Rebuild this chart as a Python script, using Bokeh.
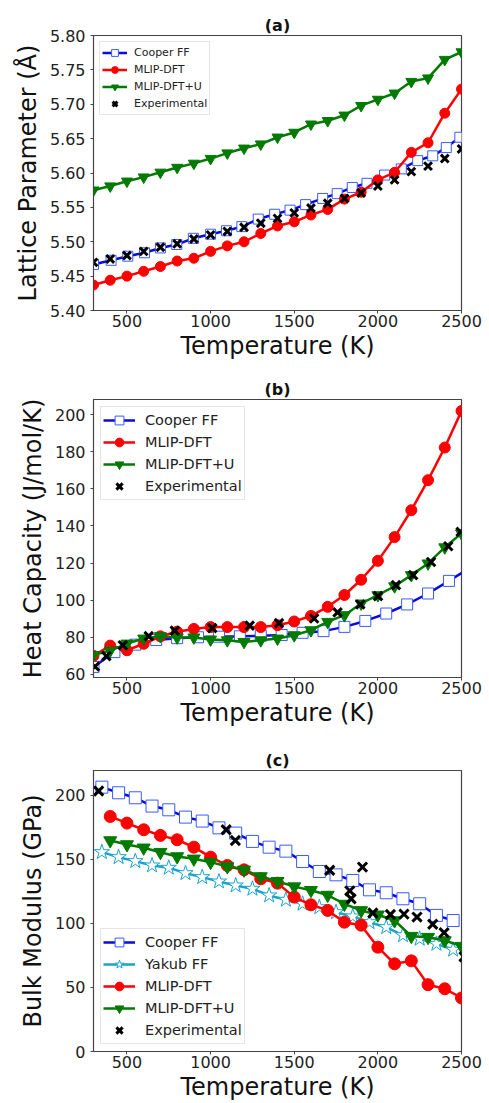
from bokeh.plotting import figure
from bokeh.layouts import column
from bokeh.models import Range1d, FixedTicker, PrintfTickFormatter
from bokeh.embed import file_html
from bokeh.resources import INLINE

# ---------------- Panel (a): lattice parameter ----------------
T_a = [300, 400, 500, 600, 700, 800, 900, 1000, 1100, 1200, 1300, 1400,
       1500, 1600, 1700, 1800, 1900, 2000, 2100, 2200, 2300, 2400, 2500]
cooper_a_T = [300, 405, 505, 605, 700, 798, 897, 1000, 1095, 1187, 1285, 1383,
              1475, 1568, 1670, 1757, 1847, 1935, 2040, 2140, 2238, 2328, 2409, 2490]
cooper_a = [5.467, 5.473, 5.479, 5.484, 5.491, 5.496, 5.505, 5.511, 5.516, 5.522,
            5.533, 5.540, 5.546, 5.554, 5.563, 5.570, 5.579, 5.585, 5.597, 5.606,
            5.618, 5.625, 5.637, 5.652]
mlip_a = [5.437, 5.444, 5.450, 5.457, 5.464, 5.472, 5.476, 5.486, 5.494, 5.500,
          5.512, 5.523, 5.529, 5.539, 5.547, 5.562, 5.572, 5.590, 5.601, 5.630,
          5.644, 5.687, 5.722]
mlipu_a = [5.575, 5.581, 5.588, 5.594, 5.601, 5.608, 5.614, 5.621, 5.629, 5.636,
           5.642, 5.652, 5.659, 5.671, 5.676, 5.684, 5.698, 5.707, 5.716, 5.733,
           5.738, 5.765, 5.776]
exp_a = [5.470, 5.475, 5.480, 5.486, 5.492, 5.497, 5.504, 5.510, 5.515, 5.521,
         5.527, 5.534, 5.542, 5.549, 5.556, 5.563, 5.571, 5.581, 5.590, 5.602,
         5.610, 5.621, 5.635]
yticks_a = [5.40, 5.45, 5.50, 5.55, 5.60, 5.65, 5.70, 5.75, 5.80]

# ---------------- Panel (b): heat capacity ----------------
T_b = [300, 400, 500, 600, 700, 800, 900, 1000, 1100, 1200, 1300, 1400,
       1500, 1600, 1700, 1800, 1900, 2000, 2100, 2200, 2300, 2400, 2500]
cooper_b_T = [300, 425, 550, 675, 800, 925, 1050, 1175, 1300, 1425, 1550, 1675,
              1800, 1925, 2050, 2175, 2300, 2425, 2550]
cooper_b = [64, 72, 76, 78.5, 79.5, 80, 80.3, 80.5, 80.8, 81.2, 82.4, 83.3,
            85.6, 88.8, 92.8, 97.7, 103.6, 110.4, 117.5]
mlip_b = [70, 75.5, 73, 76.5, 80.5, 83, 84.5, 85.5, 85.5, 85.5, 85.5, 86.5,
          88.5, 91.5, 96.4, 102.8, 111, 121.2, 134, 148.5, 164.7, 182.3, 202]
mlipu_b = [70.4, 72.8, 76.6, 79.3, 80.6, 79.9, 79.9, 78.8, 78.4, 77.5, 78.4, 79.3,
           81.1, 83.8, 88.3, 91.9, 98.2, 102.7, 107.5, 113.5, 119.8, 128.5, 136]
exp_b_T = [309, 377, 475, 630, 786, 1010, 1234, 1409, 1619, 1759, 1895, 2001,
           2108, 2211, 2318, 2421, 2495]
exp_b = [64.2, 69.8, 75.7, 80.6, 83.6, 84.9, 86.3, 87.6, 90.1, 93.4, 97.7, 102.2,
         108.1, 113.5, 120.6, 129.1, 136.8]
yticks_b = [60, 80, 100, 120, 140, 160, 180, 200]

# ---------------- Panel (c): bulk modulus ----------------
T_c_ff = [350, 450, 550, 650, 750, 850, 950, 1050, 1150, 1250, 1350, 1450,
          1550, 1650, 1750, 1850, 1950, 2050, 2150, 2250, 2350, 2450]
cooper_c = [206.5, 202.1, 198.2, 191.7, 188.8, 183.1, 180, 174.7, 170.6, 164.1,
            159.6, 156.5, 148.4, 140.6, 138, 133.6, 126.3, 124, 119.3, 115.4,
            106.3, 102.3]
yakub_c = [155.7, 151.8, 148.7, 145.3, 143.5, 139.3, 136.2, 132.8, 129.7, 127.1,
           121.9, 118.5, 115.4, 112.7, 108.8, 105.5, 101, 97.1, 90.8, 88, 84.1, 79.5]
T_c_ml = [400, 500, 600, 700, 800, 900, 1000, 1100, 1200, 1300, 1400, 1500,
          1600, 1700, 1800, 1900, 2000, 2100, 2200, 2300, 2400, 2500]
mlip_c = [183.6, 178.4, 173.2, 168.8, 165.4, 159.6, 151.8, 145.3, 141.9, 134.9,
          131.5, 120.6, 114.6, 110.2, 101, 98.7, 81.5, 68.5, 70.8, 52.2, 49, 41.8]
mlipu_c = [164.8, 161.7, 159.1, 155.7, 152.3, 150.5, 147.9, 144.5, 141.9, 136.7,
           133, 128.8, 126, 122.2, 115.2, 110.2, 106.8, 102.3, 90.1, 89.3, 86.7, 82.3]
exp_c_T = [331, 1093, 1148, 1712, 1832, 1840, 1908, 1970, 2075, 2156, 2234,
           2328, 2396, 2515]
exp_c = [203.5, 173.2, 164.8, 141.6, 125.5, 119.3, 144, 108.2, 107, 107.3, 105,
         99.4, 92.8, 74]
yticks_c = [0, 50, 100, 150, 200]

xticks = [500, 1000, 1500, 2000, 2500]

BLUE = "#0a0ae0"
BLUE_EDGE = "#3a5cff"
CYAN = "#1aa3c9"
RED = "#ff0000"
GREEN = "#007a00"
FONT = "DejaVu Sans"
AXC = "#444444"


def make_fig(height, ml, mr, mt, mb, yr, yticks, fmt, ylabel, title):
    p = figure(width=489, height=height, x_range=Range1d(300, 2500),
               y_range=Range1d(*yr), output_backend="svg", toolbar_location=None,
               min_border_left=ml, min_border_right=mr, min_border_top=mt,
               min_border_bottom=mb, title=title)
    p.title.text_font = FONT
    p.title.text_font_size = "16px"
    p.title.text_font_style = "bold"
    p.title.align = "center"
    p.title.standoff = 2
    p.title.text_color = "#111111"
    p.xgrid.visible = False
    p.ygrid.visible = False
    p.outline_line_color = AXC
    p.outline_line_width = 1.2
    p.xaxis.ticker = FixedTicker(ticks=xticks)
    p.yaxis.ticker = FixedTicker(ticks=yticks)
    p.yaxis.formatter = PrintfTickFormatter(format=fmt)
    p.xaxis.axis_label = "Temperature (K)"
    p.yaxis.axis_label = ylabel
    for ax in (p.xaxis[0], p.yaxis[0]):
        ax.axis_line_color = AXC
        ax.major_tick_line_color = AXC
        ax.minor_tick_line_color = None
        ax.major_tick_in = 0
        ax.major_tick_out = 3
        ax.major_label_text_font = FONT
        ax.major_label_text_font_size = "16px"
        ax.major_label_text_color = "#222222"
        ax.axis_label_text_font = FONT
        ax.axis_label_text_font_size = "24px"
        ax.axis_label_text_font_style = "normal"
        ax.axis_label_text_color = "#111111"
    p.xaxis.major_label_standoff = 1
    p.xaxis.axis_label_standoff = 2
    p.yaxis.major_label_standoff = 5
    p.yaxis.axis_label_standoff = 5
    return p


def style_legend(p, loc, fs, gw, gh, std, sp, pad, margin):
    lg = p.legend[0]
    lg.location = loc
    lg.label_text_font = FONT
    lg.label_text_font_size = fs
    lg.label_text_color = "#222222"
    lg.glyph_width = gw
    lg.glyph_height = gh
    lg.label_height = gh
    lg.label_standoff = std
    lg.spacing = sp
    lg.padding = pad
    lg.margin = margin
    lg.border_line_color = "#cccccc"
    lg.border_line_width = 1
    lg.background_fill_alpha = 0.85


def add_series(p, x, y, color, marker, size, label, fill=None, edge=None, lw=2.5):
    p.line(x, y, line_color=color, line_width=lw, legend_label=label)
    p.scatter(x, y, marker=marker, size=size,
              fill_color=fill if fill is not None else color,
              line_color=edge if edge is not None else color,
              line_width=1, legend_label=label)


# ---- (a)
pa = make_fig(368, 93, 27, 35, 58, (5.40, 5.80), yticks_a, "%.2f",
              "Lattice Parameter (Å)", "(a)")
add_series(pa, cooper_a_T, cooper_a, BLUE, "square", 10, "Cooper FF",
           fill="white", edge=BLUE_EDGE)
add_series(pa, T_a, mlip_a, RED, "circle", 10, "MLIP-DFT")
add_series(pa, T_a, mlipu_a, GREEN, "inverted_triangle", 11, "MLIP-DFT+U")
pa.scatter(T_a, exp_a, marker="x", size=11, line_color="black", line_width=3,
           legend_label="Experimental")
style_legend(pa, "top_left", "11px", 25, 17, 7, 0, 2, 6)

# ---- (b)
pb = make_fig(370, 88, 25, 31, 61, (58.3, 208.2), yticks_b, "%d",
              "Heat Capacity (J/mol/K)", "(b)")
add_series(pb, cooper_b_T, cooper_b, BLUE, "square", 11, "Cooper FF",
           fill="white", edge=BLUE_EDGE)
add_series(pb, T_b, mlip_b, RED, "circle", 11, "MLIP-DFT")
add_series(pb, T_b, mlipu_b, GREEN, "inverted_triangle", 12, "MLIP-DFT+U")
pb.scatter(exp_b_T, exp_b, marker="x", size=12, line_color="black", line_width=3,
           legend_label="Experimental")
style_legend(pb, "top_left", "14.5px", 32, 22, 10, 0, 2, 7)

# ---- (c)
pc = make_fig(365, 84, 28, 32, 52, (0, 219.5), yticks_c, "%d",
              "Bulk Modulus (GPa)", "(c)")
add_series(pc, T_c_ff, cooper_c, BLUE, "square", 12, "Cooper FF",
           fill="white", edge=BLUE_EDGE)
add_series(pc, T_c_ff, yakub_c, CYAN, "star", 16, "Yakub FF",
           fill="white", edge=CYAN)
add_series(pc, T_c_ml, mlip_c, RED, "circle", 12, "MLIP-DFT")
add_series(pc, T_c_ml, mlipu_c, GREEN, "inverted_triangle", 13, "MLIP-DFT+U")
pc.scatter(exp_c_T, exp_c, marker="x", size=13, line_color="black", line_width=3,
           legend_label="Experimental")
style_legend(pc, "bottom_left", "14.5px", 32, 22, 10, 0, 2, 7)

layout = column(pa, pb, pc, spacing=0)
open("out.html", "w").write(file_html(layout, INLINE))
